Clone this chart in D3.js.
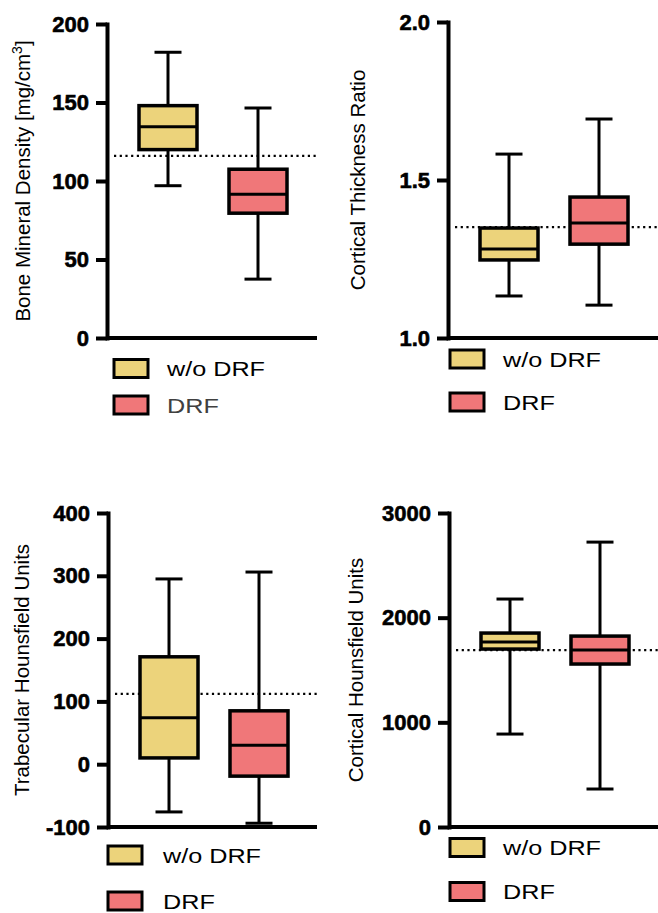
<!DOCTYPE html>
<html>
<head>
<meta charset="utf-8">
<script src="https://cdn.jsdelivr.net/npm/d3@7"></script>
<style>
body { margin: 0; background: #fff; }
text { font-family: "Liberation Sans", Arial, sans-serif; }
.tick text { font-weight: bold; }
</style>
</head>
<body>
<svg width="658" height="913"></svg>
<script>
var groups = ["w/o DRF", "DRF"];
var fills = ["#ECD37B", "#F07779"];

// box stats per group: [min, q1, median, q3, max]
var bmdBoxes = [[97, 120, 134.5, 148, 182], [37.5, 79.5, 91.5, 107.5, 146.5]];
var ctrBoxes = [[1.133, 1.247, 1.282, 1.348, 1.582], [1.104, 1.297, 1.364, 1.446, 1.693]];
var thuBoxes = [[-76, 10, 74, 171, 295], [-94, -19, 30, 85, 306]];
var chuBoxes = [[888, 1700, 1767, 1853, 2178], [363, 1557, 1690, 1824, 2722]];

// tick labels
var bmdTicks = [0, 50, 100, 150, 200];
var ctrTicks = [1.0, 1.5, 2.0];
var thuTicks = [-100, 0, 100, 200, 300, 400];
var chuTicks = [0, 1000, 2000, 3000];

// dotted reference lines
var refLines = [116, 1.351, 112, 1690];

var svg = d3.select("svg");

var panels = [
  {boxes: bmdBoxes, ticks: bmdTicks, ref: refLines[0], dec: 0, label: "Bone Mineral Density [mg/cm", sup: "3", close: "]",
   ax: 107, y0: 338, y1: 24, xEnd: 317, labelX: 23, labelY: 181, legX: 114, legY: [368.5, 405], textX: 167, drfText: "#404040"},
  {boxes: ctrBoxes, ticks: ctrTicks, ref: refLines[1], dec: 1, label: "Cortical Thickness Ratio",
   ax: 448, y0: 338, y1: 22, xEnd: 658, labelX: 358, labelY: 180, legX: 450, legY: [359, 402], textX: 503, drfText: "#000"},
  {boxes: thuBoxes, ticks: thuTicks, ref: refLines[2], dec: 0, label: "Trabecular Hounsfield Units",
   ax: 108, y0: 827, y1: 513, xEnd: 317, labelX: 22, labelY: 670, legX: 108, legY: [855, 901], textX: 163, drfText: "#000"},
  {boxes: chuBoxes, ticks: chuTicks, ref: refLines[3], dec: 0, label: "Cortical Hounsfield Units",
   ax: 449, y0: 827, y1: 513, xEnd: 658, labelX: 356, labelY: 670, legX: 450, legY: [847.5, 891.5], textX: 503, drfText: "#000"}
];

panels.forEach(function(p) {
  var y = d3.scaleLinear()
      .domain([p.ticks[0], p.ticks[p.ticks.length - 1]])
      .range([p.y0, p.y1]);
  var x = d3.scalePoint()
      .domain(groups)
      .range([p.ax + 61, p.ax + 151]);
  var boxW = 58, capW = 27;

  var g = svg.append("g");

  // dotted reference line (under the boxes)
  g.append("line")
      .attr("x1", p.ax + 7).attr("x2", p.xEnd)
      .attr("y1", y(p.ref)).attr("y2", y(p.ref))
      .attr("stroke", "#000")
      .attr("stroke-width", 2.4)
      .attr("stroke-dasharray", "2.2,3.5");

  var box = g.selectAll(".box")
    .data(p.boxes)
    .enter().append("g")
      .attr("class", "box")
      .attr("transform", function(d, i) { return "translate(" + x(groups[i]) + ",0)"; });

  // whiskers
  box.append("line")
      .attr("y1", function(d) { return y(d[0]); })
      .attr("y2", function(d) { return y(d[4]); })
      .attr("stroke", "#000").attr("stroke-width", 3);
  [0, 4].forEach(function(k) {
    box.append("line")
        .attr("x1", -capW / 2).attr("x2", capW / 2)
        .attr("y1", function(d) { return y(d[k]); })
        .attr("y2", function(d) { return y(d[k]); })
        .attr("stroke", "#000").attr("stroke-width", 3);
  });

  // box
  box.append("rect")
      .attr("x", -boxW / 2)
      .attr("width", boxW)
      .attr("y", function(d) { return y(d[3]); })
      .attr("height", function(d) { return y(d[1]) - y(d[3]); })
      .attr("fill", function(d, i) { return fills[i]; })
      .attr("stroke", "#000").attr("stroke-width", 3.5);

  // median
  box.append("line")
      .attr("x1", -boxW / 2).attr("x2", boxW / 2)
      .attr("y1", function(d) { return y(d[2]); })
      .attr("y2", function(d) { return y(d[2]); })
      .attr("stroke", "#000").attr("stroke-width", 3);

  // y axis
  var yAxis = g.append("g")
      .attr("transform", "translate(" + p.ax + ",0)")
      .call(d3.axisLeft(y)
        .tickValues(p.ticks)
        .tickSize(11)
        .tickSizeOuter(0)
        .tickPadding(7)
        .tickFormat(function(d) { return d.toFixed(p.dec); }));
  yAxis.select(".domain").attr("stroke-width", 4).attr("stroke-linecap", "square");
  yAxis.selectAll(".tick line").attr("stroke-width", 4);
  yAxis.selectAll(".tick text")
      .style("font-family", "'Liberation Sans', Arial, sans-serif")
      .style("font-size", "22px")
      .style("font-weight", "700")
      .attr("fill", "#000")
      .attr("stroke", "#000")
      .attr("stroke-width", 0.6);

  // x axis line
  g.append("line")
      .attr("x1", p.ax).attr("x2", p.xEnd)
      .attr("y1", y(p.ticks[0])).attr("y2", y(p.ticks[0]))
      .attr("stroke", "#000").attr("stroke-width", 4);

  // y label
  var lab = g.append("text")
      .attr("transform", "translate(" + p.labelX + "," + p.labelY + ") rotate(-90)")
      .attr("text-anchor", "middle")
      .attr("dy", "0.35em")
      .attr("font-size", 20.5)
      .attr("fill", "#000")
      .text(p.label);
  if (p.sup) {
    lab.append("tspan").attr("font-size", 14).attr("dy", "-0.6em").text(p.sup);
    lab.append("tspan").attr("dy", "0.42em").text(p.close);
  }

  // legend
  var leg = g.selectAll(".leg")
    .data(groups)
    .enter().append("g")
      .attr("class", "leg")
      .attr("transform", function(d, i) { return "translate(0," + p.legY[i] + ")"; });
  leg.append("rect")
      .attr("x", p.legX).attr("y", -9)
      .attr("width", 34).attr("height", 18)
      .attr("fill", function(d, i) { return fills[i]; })
      .attr("stroke", "#000").attr("stroke-width", 3);
  leg.append("text")
      .attr("transform", function() { return "translate(" + p.textX + ",7.5) scale(1.2,1)"; })
      .attr("font-size", 21)
      .attr("fill", function(d, i) { return i === 1 ? p.drfText : "#000"; })
      .text(function(d) { return d; });
});
</script>
</body>
</html>
